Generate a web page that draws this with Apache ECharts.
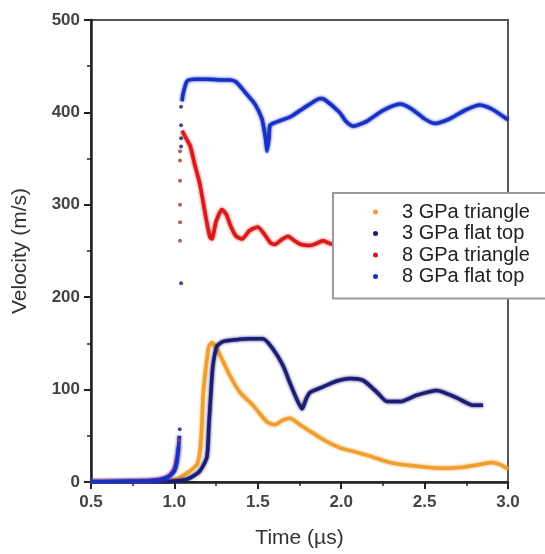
<!DOCTYPE html>
<html>
<head>
<meta charset="utf-8">
<script src="https://cdn.jsdelivr.net/npm/echarts@6/dist/echarts.min.js"></script>
<style>
html,body{margin:0;padding:0;background:#fff;}
#chart{width:545px;height:554px;}
</style>
</head>
<body>
<div id="chart"></div>
<script>
// ---- Data ----
const seriesNames = ['3 GPa triangle', '3 GPa flat top', '8 GPa triangle', '8 GPa flat top'];
const xTicks = [0.5, 1.0, 1.5, 2.0, 2.5, 3.0];
const yTicks = [0, 100, 200, 300, 400, 500];

const tri3 = [[0.5,0],[0.8,0],[0.95,1],[1.016,3],[1.06,8],[1.094,12],[1.135,19],[1.153,33],[1.165,62],[1.171,91],[1.183,115],[1.195,133],[1.207,147],[1.225,151],[1.25,145],[1.285,133],[1.333,115],[1.393,97],[1.471,83],[1.555,65],[1.603,62],[1.651,67],[1.693,69],[1.753,62],[1.813,55],[1.891,46],[1.993,37],[2.095,32],[2.191,27],[2.293,21],[2.454,17],[2.592,15],[2.730,16],[2.832,19],[2.904,21],[2.964,18],[3.0,14]];

const flat3 = [[0.5,0],[0.9,0],[1.05,2],[1.1,5],[1.153,12],[1.195,27],[1.207,62],[1.219,97],[1.231,126],[1.255,147],[1.291,152],[1.37,154],[1.453,155],[1.531,155],[1.591,144],[1.651,126],[1.693,107],[1.735,89],[1.765,79],[1.79,90],[1.813,97],[1.891,103],[1.97,109],[2.053,112],[2.131,110],[2.215,97],[2.275,87],[2.353,87],[2.454,94],[2.574,99],[2.694,91],[2.790,83],[2.850,83]];

const tri8Base = [[0.5,0],[0.8,1],[0.92,3],[0.97,7],[1.0,14],[1.015,25],[1.025,38]];
const tri8Dots = [[1.028,45],[1.034,261],[1.034,281],[1.034,300],[1.034,326],[1.034,348],[1.034,358]];
const tri8 = [[1.046,380],[1.07,372],[1.094,364],[1.12,345],[1.153,322],[1.19,285],[1.213,265],[1.225,263],[1.25,282],[1.285,295],[1.31,290],[1.34,276],[1.37,266],[1.405,263],[1.45,272],[1.50,276],[1.54,268],[1.575,259],[1.603,257],[1.64,262],[1.681,266],[1.72,261],[1.76,257],[1.813,256],[1.85,258],[1.891,261],[1.92,259],[1.951,257]];

const flat8Base = [[0.5,0],[0.8,1],[0.9,2],[0.96,5],[1.0,12],[1.015,22],[1.025,38],[1.03,50]];
const flat8Dots = [[1.032,57],[1.04,215],[1.04,363],[1.04,372],[1.04,386],[1.04,406]];
const flat8 = [[1.046,412],[1.052,420],[1.076,434],[1.12,436],[1.2,436],[1.28,435],[1.333,435],[1.369,433],[1.423,422],[1.483,409],[1.525,393],[1.537,382],[1.549,368],[1.555,358],[1.567,372],[1.573,386],[1.603,389],[1.693,395],[1.753,402],[1.813,409],[1.873,415],[1.90,414],[1.99,400],[2.03,390],[2.071,385],[2.15,390],[2.25,402],[2.353,409],[2.42,404],[2.50,393],[2.562,388],[2.65,393],[2.75,403],[2.832,408],[2.90,404],[3.0,392]];

const colors = ['#ef9f2f', '#1c1c72', '#d81a1a', '#1830c4'];
const FONT = 'Liberation Sans, Arial, sans-serif';

function lineSeries(name, data, color) {
  return {
    name: name, type: 'line', data: data, symbol: 'none', smooth: 0.2,
    lineStyle: {color: color, width: 3.5, shadowColor: color, shadowBlur: 3},
    itemStyle: {color: color}, z: 3
  };
}
function dotSeries(name, data, color) {
  return {
    name: name, type: 'scatter', data: data, symbolSize: 4,
    itemStyle: {color: color}, z: 3
  };
}

const chart = echarts.init(document.getElementById('chart'));
chart.setOption({
  animation: false,
  backgroundColor: '#fff',
  grid: {left: 91, right: 37, top: 20, bottom: 66, show: true, borderColor: '#555', borderWidth: 2},
  legend: {
    orient: 'vertical', left: 333, top: 193,
    data: seriesNames,
    icon: 'circle', itemWidth: 5, itemHeight: 5, itemGap: 1.5,
    padding: [9, 40, 12, 40],
    borderColor: '#999', borderWidth: 2, backgroundColor: '#fff',
    textStyle: {fontFamily: FONT, fontSize: 20, lineHeight: 20, color: '#222', padding: [0, 0, 0, 19]}
  },
  xAxis: {
    type: 'value', min: xTicks[0], max: xTicks[xTicks.length - 1], interval: 0.5,
    name: 'Time (\u00b5s)', nameLocation: 'middle', nameGap: 46,
    nameTextStyle: {fontFamily: FONT, fontSize: 21, color: '#333'},
    axisLine: {lineStyle: {color: '#222', width: 2.5}},
    axisTick: {inside: false, length: 7, lineStyle: {color: '#222', width: 2}},
    minorTick: {show: true, splitNumber: 2, length: 4, lineStyle: {color: '#222', width: 1.5}},
    splitLine: {show: false},
    axisLabel: {margin: 12, fontFamily: FONT, fontSize: 17, fontWeight: 'bold', color: '#444',
      formatter: v => v.toFixed(1)}
  },
  yAxis: {
    type: 'value', min: yTicks[0], max: yTicks[yTicks.length - 1], interval: 100,
    name: 'Velocity (m/s)', nameLocation: 'middle', nameGap: 60,
    nameTextStyle: {fontFamily: FONT, fontSize: 21, color: '#333'},
    axisLine: {show: true, lineStyle: {color: '#222', width: 2.5}},
    axisTick: {show: true, inside: false, length: 7, lineStyle: {color: '#222', width: 2}},
    minorTick: {show: true, splitNumber: 2, length: 4, lineStyle: {color: '#222', width: 1.5}},
    splitLine: {show: false},
    axisLabel: {margin: 11, fontFamily: FONT, fontSize: 17, fontWeight: 'bold', color: '#444'}
  },
  series: [
    lineSeries(seriesNames[0], tri3, colors[0]),
    lineSeries(seriesNames[1], flat3, colors[1]),
    lineSeries(seriesNames[2], tri8, colors[2]),
    lineSeries(seriesNames[3], flat8, colors[3]),
    lineSeries(seriesNames[2], tri8Base, '#b0306a'),
    lineSeries(seriesNames[3], flat8Base, colors[3]),
    dotSeries(seriesNames[2], tri8Dots, '#a33a3a'),
    dotSeries(seriesNames[3], flat8Dots, colors[1])
  ]
});
</script>
</body>
</html>
